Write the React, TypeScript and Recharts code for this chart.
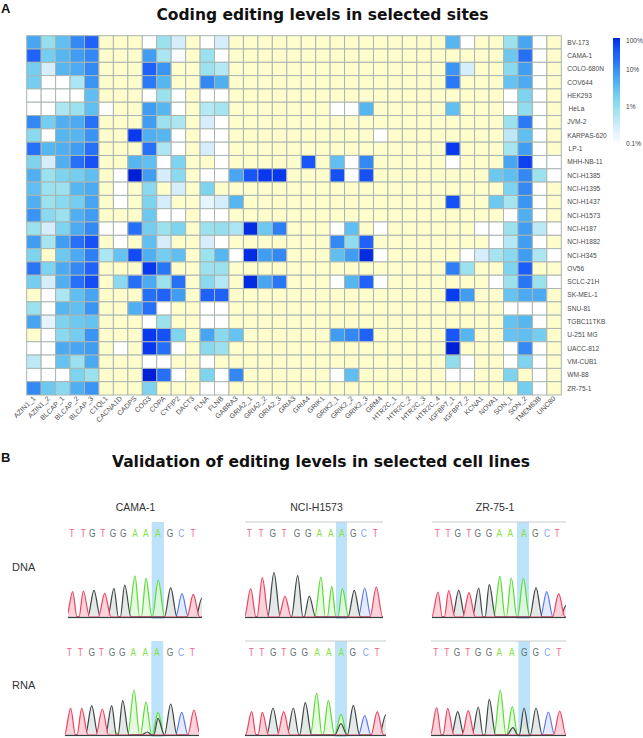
import React from "react";
import {
  ScatterChart,
  Scatter,
  ComposedChart,
  Area,
  XAxis,
  YAxis,
  ReferenceArea,
  ReferenceLine,
} from "recharts";

const FONT = '"Liberation Sans", Arial, sans-serif';
const TITLE_FONT = '"DejaVu Sans", Verdana, sans-serif';
const _ = null;

const siteLabels = [
  "AZIN1_1", "AZIN1_2", "BLCAP_1", "BLCAP_2", "BLCAP_3", "C1QL1", "CACNA1D", "CADPS", "COG3", "COPA",
  "CYFIP2", "DACT3", "FLNA", "FLNB", "GABRA3", "GRIA2_1", "GRIA2_2", "GRIA2_3", "GRIA3", "GRIA4",
  "GRIK1", "GRIK2_1", "GRIK2_2", "GRIK2_3", "GRM4", "HTR2C_1", "HTR2C_2", "HTR2C_3", "HTR2C_4",
  "IGFBP7_1", "IGFBP7_2", "KCNA1", "NOVA1", "SON_1", "SON_2", "TMEM63B", "UNC80",
];

const cellLines = [
  "BV-173", "CAMA-1", "COLO-680N", "COV644", "HEK293", "HeLa", "JVM-2", "KARPAS-620", "LP-1",
  "MHH-NB-11", "NCI-H1385", "NCI-H1395", "NCI-H1437", "NCI-H1573", "NCI-H187", "NCI-H1882", "NCI-H345",
  "OV56", "SCLC-21H", "SK-MEL-1", "SNU-81", "TGBC11TKB", "U-251 MG", "UACC-812", "VM-CUB1", "WM-88", "ZR-75-1",
];

// editing level in percent, one row per cell line, null = no coverage (pale yellow)
const editingLevels = [
  [8, 1.2, 4, 15, 35, _, _, _, .1, 1, .3, _, .1, .3, _, _, _, _, _, _, _, _, _, _, _, _, _, _, _, 5, .1, _, _, 1, 8, .1, _],
  [35, 2.5, 5, 10, 15, _, _, _, 10, .7, .12, _, 1, .1, _, _, _, _, _, _, _, _, _, _, _, _, _, _, _, _, _, _, _, 3, 25, .1, _],
  [2.5, .3, 5, 7, 15, _, _, _, 35, 12, _, _, 1, .6, _, _, _, _, _, _, _, _, _, _, _, _, _, _, _, 12, .3, _, _, 1.5, 10, .1, _],
  [2.5, .1, .1, .7, 12, _, _, _, 20, 5, _, _, 15, 6, _, _, _, _, _, _, _, _, _, _, _, _, _, _, _, 20, _, _, _, 3.5, 7, .1, _],
  [.1, .1, .1, .1, 4, _, _, _, .1, 1, .1, _, .1, .1, _, _, _, _, _, _, _, _, _, _, _, _, _, _, _, _, _, _, _, .1, 2, .1, _],
  [.1, .1, .7, 1, 4, .1, _, _, 10, 5, .1, _, .6, .8, _, _, _, _, _, _, _, .1, .1, 5, _, _, _, _, _, 4, _, _, _, .1, 1.3, .1, _],
  [15, 2.5, 6, 7, 25, _, _, _, 10, 1, .7, _, .3, .1, _, _, _, _, _, _, _, _, _, _, _, _, _, _, _, _, _, _, _, 1, 20, .1, _],
  [1.5, .1, 5, 5, 12, _, _, 80, 6, 5, .1, _, .1, .1, _, _, _, _, _, _, _, _, _, _, .1, _, _, _, _, _, _, _, _, .5, 4, .1, _],
  [25, 5, 6, 10, 25, _, _, _, 25, .7, .1, _, .3, .1, _, _, _, _, _, _, _, _, _, _, _, _, _, _, _, 80, _, _, _, .8, 10, .1, _],
  [2, .3, 6, 25, 50, _, _, 5, 4, .1, 2, _, _, .1, _, _, _, _, _, 45, _, 4, .1, 15, _, _, _, _, _, .1, _, _, _, 8, 70, .1, .1],
  [6, 1, 2, 2.5, 4, _, .1, 100, 10, .3, 1.5, _, .1, .1, 8, 45, 80, 80, _, _, _, 50, .1, 50, _, _, _, _, _, _, _, _, 3, 4, 15, 1, .1],
  [4, 1, 1, 5, 7, _, .1, _, 1.5, _, .3, _, 2, _, _, _, _, _, _, _, _, _, _, _, _, _, _, _, _, _, _, _, _, 2, 15, .1, _],
  [6, 1, 1.5, 2.5, 8, _, .1, _, 2, .3, _, _, .2, .3, 5, _, _, _, _, _, _, _, _, _, _, _, _, _, _, 50, _, _, 3, .8, 12, .1, _],
  [12, 1.5, 1, 6, 10, _, _, _, 3, .1, .1, _, .1, .1, _, _, _, _, _, _, _, _, _, _, _, _, _, _, _, _, _, _, _, .1, 6, .1, _],
  [1, .3, 2, 7, 15, .1, .1, 25, 2.5, 1, 2, _, 1, 1.2, .7, 90, 3, 18, _, _, _, .1, 4, _, .1, _, _, _, _, _, _, .1, .1, 1, 10, .5, .1],
  [10, .8, 10, 25, 50, _, .1, _, 4, .3, _, _, .3, .1, _, _, _, _, _, _, _, 15, 1.3, 35, _, _, _, _, _, _, _, _, .1, .6, 10, .1, _],
  [2, _, 3, 7, 18, .7, 3.5, 55, 6, 2.5, 4, _, 1, 5, .1, 90, 10, 15, _, _, _, 4, 10, 90, .1, _, _, _, _, _, .1, .3, .8, 1.5, 10, .7, .1],
  [22, 2, 7, 15, 35, _, _, _, 80, 22, _, _, 1, 1, _, _, _, _, _, _, _, _, _, _, _, _, _, _, _, 18, 1, _, _, 2, 40, _, _],
  [2.5, .3, 6, 25, 55, _, 1.5, 25, 7, 1, 25, _, 1.5, .6, _, 90, 8, 22, _, _, _, .1, 5, 35, .1, _, _, _, _, _, _, _, .1, 1, 22, 1, .1],
  [_, .1, .7, 4, 8, _, _, _, 25, 35, 10, _, 35, 35, _, _, _, _, _, _, _, _, _, _, _, _, _, _, _, 75, 10, _, _, 3.5, 7, 7, _],
  [1, .1, 5, 4, 12, _, _, 6, 25, .1, _, _, .1, .1, _, _, _, _, _, _, _, _, _, _, _, _, _, _, _, _, _, _, _, .1, .1, .1, _],
  [8, .2, 2, 3, 3.5, _, _, _, .1, 1, _, _, .1, .1, _, _, _, _, _, _, _, _, _, _, _, _, _, _, _, _, _, _, _, 3.5, 5, .1, _],
  [_, .1, 1.5, 2.5, 12, _, _, _, 80, 50, 2, _, 8, 1.5, 3.5, _, _, _, _, _, _, 10, 15, 35, _, _, _, _, _, 45, 5, _, _, 3.5, 4, 2.5, _],
  [.1, .1, 7, 8, 10, _, .1, _, 80, 25, .1, _, 1.5, 1, _, _, _, _, _, _, _, _, _, _, _, _, _, _, _, 100, _, _, _, .1, 15, .1, _],
  [.5, .1, 3.5, 1, 7, _, _, _, .1, .1, _, _, .1, _, _, _, _, _, _, _, _, _, _, _, _, _, _, _, _, 1.3, .1, _, _, .1, 2, .1, _],
  [.1, .1, .1, 2, 1, _, _, _, 100, 25, .1, _, 2, .1, 15, _, _, _, _, _, _, .1, 4, _, _, _, _, _, _, .1, .1, _, _, 2, _, .1, _],
  [15, 3, 1.5, 6, 12, _, _, _, 2, _, _, _, .1, .1, _, _, _, _, _, _, _, _, _, _, _, _, _, _, _, _, _, _, _, _, 2.5, .1, _],
];

const noCoverageColor = "#fffdcb";
const gridColor = "#a9b6b3";
const scaleStops: [number, string][] = [
  [0, "#ffffff"], [0.16, "#d6eefc"], [0.33, "#9ce3ee"], [0.47, "#74cdf0"], [0.57, "#55b5f0"],
  [0.67, "#3f9cf2"], [0.77, "#2a78f6"], [0.88, "#1a58fa"], [0.97, "#0838ee"], [1, "#0020d8"],
];

function hexToRgb(h: string) {
  return [1, 3, 5].map((i) => parseInt(h.slice(i, i + 2), 16));
}

function levelColor(v: number | null) {
  if (v === null) return noCoverageColor;
  const t = Math.min(1, Math.max(0, (Math.log10(v) + 1) / 3));
  for (let i = 1; i < scaleStops.length; i++) {
    if (t <= scaleStops[i][0]) {
      const [t0, c0] = scaleStops[i - 1];
      const [t1, c1] = scaleStops[i];
      const k = (t - t0) / (t1 - t0);
      const a = hexToRgb(c0);
      const b = hexToRgb(c1);
      return `rgb(${a.map((x, j) => Math.round(x + (b[j] - x) * k)).join(",")})`;
    }
  }
  return scaleStops[scaleStops.length - 1][1];
}

const cells = editingLevels.flatMap((row, r) => row.map((value, c) => ({ col: c, row: r, value })));

const CELL_W = 14.45;
const CELL_H = 13.31;

function Heatmap() {
  return (
    <div style={{ position: "absolute", left: 0, top: 0 }}>
      <ScatterChart width={643} height={440} margin={{ top: 35.7, right: 0, bottom: 0, left: 26.7 }}>
        <XAxis
          type="number"
          dataKey="col"
          domain={[-0.5, 36.5]}
          ticks={siteLabels.map((_l, i) => i)}
          interval={0}
          height={45}
          axisLine={false}
          tickLine={false}
          tick={(p: any) => (
            <text
              x={p.x + 2}
              y={p.y - 4}
              textAnchor="end"
              fontSize={7}
              fontFamily={FONT}
              fill="#4a4a4a"
              transform={`rotate(-45 ${p.x + 2} ${p.y - 4})`}
            >
              {siteLabels[p.payload.value]}
            </text>
          )}
        />
        <YAxis
          type="number"
          dataKey="row"
          orientation="right"
          reversed
          domain={[-0.5, 26.5]}
          ticks={cellLines.map((_l, i) => i)}
          interval={0}
          width={81.7}
          axisLine={false}
          tickLine={false}
          tick={(p: any) => {
            const name = cellLines[p.payload.value];
            const nudge = name === "HeLa" || name === "LP-1" ? 1.3 : 0;
            return (
              <text x={p.x - 2 + nudge} y={p.y + 2.3} fontSize={6.6} fontFamily={FONT} fill="#4a4a4a">
                {name}
              </text>
            );
          }}
        />
        <Scatter
          data={cells}
          isAnimationActive={false}
          shape={(p: any) => (
            <rect
              x={p.cx - CELL_W / 2}
              y={p.cy - CELL_H / 2}
              width={CELL_W}
              height={CELL_H}
              fill={levelColor(p.payload.value)}
              stroke={gridColor}
              strokeWidth={1}
            />
          )}
        />
      </ScatterChart>
    </div>
  );
}

const legendTicks = [
  { label: "100%", y: 41 },
  { label: "10%", y: 70 },
  { label: "1%", y: 107 },
  { label: "0.1%", y: 144 },
];

function HeatLegend() {
  const gradient = [...scaleStops]
    .reverse()
    .map(([t, c]) => `${c} ${((1 - t) * 100).toFixed(0)}%`)
    .join(",");
  return (
    <>
      <div
        style={{
          position: "absolute",
          left: 613,
          top: 38,
          width: 7,
          height: 107,
          background: `linear-gradient(to bottom, ${gradient})`,
        }}
      />
      {legendTicks.map((t) => (
        <div key={t.label} style={{ ...textStyle, left: 626, top: t.y - 5, fontSize: 6.6, lineHeight: "10px", color: "#444" }}>
          {t.label}
        </div>
      ))}
    </>
  );
}

const baseStroke: Record<string, string> = { A: "#55dd30", C: "#5a78f0", G: "#3c4444", T: "#f0405f" };
const baseFill: Record<string, string> = { A: "#e3f8da", C: "#dfe8fb", G: "#dfe4e2", T: "#f9ccd4" };
const callColor: Record<string, string> = { A: "#85e245", C: "#86a4f2", G: "#5f6f70", T: "#f2648a" };
const baseOrder = ["A", "C", "G", "T"];

const stdCalls = ["T", "T", "G", "T", "G", "G", "A", "A", "A", "G", "C", "T"];

// CAMA-1 DNA
const camaDnaCallX = [71.7, 83.3, 92.3, 102.7, 113, 123.3, 135, 145.7, 157.7, 170, 181.3, 193];
const camaDnaBases = [...stdCalls, "G"];
const camaDnaPeakX = [72.7, 83.3, 94, 104.7, 114, 124.7, 135, 146, 158.3, 170.7, 182, 193.3, 202];
const camaDnaPeakH = [25.3, 26, 26.7, 23.7, 28.7, 32, 41, 38.7, 36.7, 29.3, 23.3, 22.7, 19];

// CAMA-1 RNA
const camaRnaCallX = [69.3, 80.3, 91.7, 101.3, 112, 122.3, 133.3, 145.3, 156.7, 170, 181, 192.3];
const camaRnaBases = [...stdCalls, "G", "A", "G"];
const camaRnaPeakX = [70.7, 81.7, 91.7, 102.3, 111.7, 122.7, 134, 146, 158, 170.7, 181.7, 194, 158, 113.5, 147.5];
const camaRnaPeakH = [26.7, 26.7, 29.3, 26, 29.3, 34.3, 45, 33, 22.7, 31, 22.7, 25, 16.7, 4, 3];

// NCI-H1573 DNA
const nciDnaCallX = [249.3, 261, 272.7, 284, 297, 308.3, 319.3, 330.7, 341.7, 353.3, 363.7, 375.3];
const nciDnaPeakX = [250.7, 262.3, 274, 285, 297.7, 309.3, 321, 331.7, 342.3, 354.3, 364.7, 376.3];
const nciDnaPeakH = [28.3, 39.3, 44.3, 20.7, 41.3, 21, 40, 30.7, 28.3, 26.7, 29, 30];

// NCI-H1573 RNA
const nciRnaCallX = [251.3, 261.7, 273.3, 283.7, 293.3, 304.7, 317, 328.7, 341.3, 352.7, 365.7, 377];
const nciRnaBases = [...stdCalls, "G", "G"];
const nciRnaPeakX = [251.7, 262.3, 273, 283.7, 293.3, 305.3, 316.7, 328.3, 341, 353.3, 364.7, 377.3, 341, 385.7];
const nciRnaPeakH = [23.3, 22.7, 27, 23.3, 27, 32.3, 41.7, 34.3, 20.7, 29.7, 19.3, 23.3, 11.3, 20];

// ZR-75-1 DNA
const zrDnaCallX = [437.3, 448, 457.7, 468.7, 477.7, 489, 499.3, 510.3, 523.7, 535.3, 547, 557];
const zrDnaBases = [...stdCalls, "G"];
const zrDnaPeakX = [438, 448.7, 458.7, 469, 478.7, 489.3, 500, 511.3, 523.3, 536, 546.7, 558.7, 566.5];
const zrDnaPeakH = [25, 26.3, 26.7, 24.3, 29, 32.3, 40.7, 39, 38.3, 29.3, 25.3, 23.3, 12];

// ZR-75-1 RNA
const zrRnaCalls = ["T", "T", "G", "T", "G", "G", "A", "A", "G", "G", "C", "T"];
const zrRnaCallX = [435.7, 446.7, 457, 467.7, 478, 489, 499.3, 511.7, 524.3, 535.7, 547.3, 558.7];
const zrRnaBases = [...zrRnaCalls, "A", "G"];
const zrRnaPeakX = [436.7, 447.7, 457.7, 468.3, 478.3, 489.3, 500.3, 512.3, 524, 536, 548.3, 559.7, 524, 513];
const zrRnaPeakH = [27.3, 26.7, 23.3, 24.3, 28, 35.7, 45, 28.3, 27, 27, 23, 24, 11.3, 7.3];

const PEAK_HALF = 6.3;

function traceRows(bases: string[], peakX: number[], peakH: number[], left: number, right: number) {
  const byX = new Map<number, any>();
  const put = (x: number, base: string, y: number) => {
    const row = byX.get(x) ?? { x };
    row[base] = y;
    byX.set(x, row);
  };
  baseOrder.forEach((b) => {
    put(left - 8, b, 0);
    put(right + 8, b, 0);
  });
  bases.forEach((b, i) => {
    put(peakX[i] - PEAK_HALF, b, 0);
    put(peakX[i], b, peakH[i]);
    put(peakX[i] + PEAK_HALF, b, 0);
  });
  return [...byX.values()].sort((a, b) => a.x - b.x);
}

type TraceProps = {
  left: number;
  right: number;
  top: number;
  baseline: number;
  calls: string[];
  callX: number[];
  bases: string[];
  peakX: number[];
  peakH: number[];
  band: [number, number];
  topLine?: boolean;
};

function Trace({ left, right, top, baseline, calls, callX, bases, peakX, peakH, band, topLine }: TraceProps) {
  const span = baseline - top;
  const rows = traceRows(bases, peakX, peakH, left, right);
  return (
    <div style={{ position: "absolute", left, top: top - 1 }}>
      <ComposedChart width={right - left} height={span + 3} data={rows} margin={{ top: 0, right: 0, bottom: 0, left: 0 }}>
        <XAxis
          type="number"
          dataKey="x"
          orientation="top"
          height={1}
          domain={[left, right]}
          allowDataOverflow
          ticks={callX}
          interval={0}
          tickLine={false}
          axisLine={topLine ? { stroke: "#c4cccb", strokeWidth: 1 } : false}
          tick={(p: any) => {
            const c = calls[p.index];
            return (
              <text
                textAnchor="middle"
                fontSize={10.5}
                fontFamily={FONT}
                fill={callColor[c]}
                transform={`translate(${p.x} 16) scale(0.8 1)`}
              >
                {c}
              </text>
            );
          }}
        />
        <YAxis hide type="number" domain={[-2, span]} allowDataOverflow />
        <ReferenceArea x1={band[0]} x2={band[1]} y1={-2} y2={span} fill="#bde3fa" fillOpacity={1} stroke="none" />
        <ReferenceLine y={-0.6} stroke="#333b3b" strokeWidth={1} />
        {baseOrder.map((b) => (
          <Area
            key={b}
            type="monotoneX"
            dataKey={b}
            stroke={baseStroke[b]}
            strokeWidth={1.2}
            fill={baseFill[b]}
            fillOpacity={0.85}
            connectNulls
            dot={false}
            activeDot={false}
            isAnimationActive={false}
          />
        ))}
      </ComposedChart>
    </div>
  );
}

const textStyle: React.CSSProperties = { position: "absolute", fontFamily: FONT, whiteSpace: "nowrap", color: "#222" };

function Label({ x, y, size, bold, center, title, children }: any) {
  return (
    <div
      style={{
        ...textStyle,
        fontFamily: title ? TITLE_FONT : FONT,
        left: x,
        top: y,
        fontSize: size,
        lineHeight: "1",
        fontWeight: bold ? 700 : 400,
        transform: center ? "translate(-50%, -50%)" : "translateY(-50%)",
        color: bold ? "#111" : "#333",
      }}
    >
      {children}
    </div>
  );
}

export default function App() {
  return (
    <div style={{ position: "absolute", left: 0, top: 0, width: 643, height: 738, background: "#fff", overflow: "hidden" }}>
      <Label x={1} y={8} size={13} bold>A</Label>
      <Label x={322.5} y={16} size={15.5} bold center title>Coding editing levels in selected sites</Label>
      <Heatmap />
      <HeatLegend />

      <Label x={1} y={457} size={13} bold>B</Label>
      <Label x={321} y={463} size={15.5} bold center title>Validation of editing levels in selected cell lines</Label>
      <Label x={135.5} y={507} size={10.5} center>CAMA-1</Label>
      <Label x={316.5} y={507} size={10.5} center>NCI-H1573</Label>
      <Label x={495} y={507} size={10.5} center>ZR-75-1</Label>
      <Label x={12} y={567} size={11}>DNA</Label>
      <Label x={12} y={685} size={11}>RNA</Label>

      <Trace left={68} right={202} top={522} baseline={617} calls={stdCalls} callX={camaDnaCallX} bases={camaDnaBases} peakX={camaDnaPeakX} peakH={camaDnaPeakH} band={[151.7, 164]} />
      <Trace left={65} right={199} top={641} baseline={735} calls={stdCalls} callX={camaRnaCallX} bases={camaRnaBases} peakX={camaRnaPeakX} peakH={camaRnaPeakH} band={[151.3, 163.3]} />
      <Trace left={245} right={383} top={522} baseline={617} calls={stdCalls} callX={nciDnaCallX} bases={stdCalls} peakX={nciDnaPeakX} peakH={nciDnaPeakH} band={[336, 347]} topLine />
      <Trace left={245} right={386} top={641} baseline={735} calls={stdCalls} callX={nciRnaCallX} bases={nciRnaBases} peakX={nciRnaPeakX} peakH={nciRnaPeakH} band={[335, 347]} topLine />
      <Trace left={432} right={566} top={522} baseline={617} calls={stdCalls} callX={zrDnaCallX} bases={zrDnaBases} peakX={zrDnaPeakX} peakH={zrDnaPeakH} band={[517, 529]} topLine />
      <Trace left={431} right={566} top={641} baseline={735} calls={zrRnaCalls} callX={zrRnaCallX} bases={zrRnaBases} peakX={zrRnaPeakX} peakH={zrRnaPeakH} band={[518.3, 530]} topLine />
    </div>
  );
}
